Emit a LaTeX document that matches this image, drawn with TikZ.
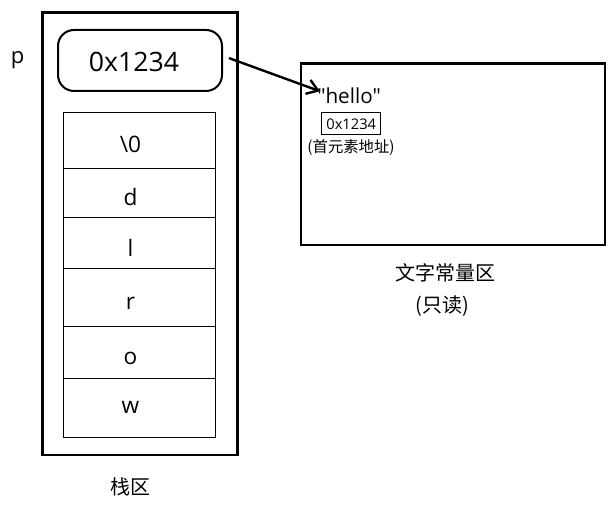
\documentclass[tikz,border=0pt]{standalone}
\usepackage{fontspec}
\setmainfont{Open Sans}[Ligatures=TeXOff]
\newfontfamily\cjk{Noto Sans CJK SC}
\usetikzlibrary{arrows.meta}

\begin{document}
\begin{tikzpicture}[x=0.75pt,y=0.75pt,yscale=-1,xscale=1,
  zone/.style={line width=2.2pt},
  cell/.style={line width=0.75pt},
  letter/.style={anchor=base,inner sep=0.75pt,font=\fontsize{17}{20}\selectfont},
  note/.style={inner sep=0.75pt,font=\cjk\fontsize{15}{18}\selectfont}]
\useasboundingbox (0,0) rectangle (613,509);
% stack area
\draw [zone] (42.5,12.5) rectangle (237.5,455) ;
\draw (17.5,63.5) node [anchor=base][inner sep=0.75pt] (plabel) {\fontsize{16.5}{18}\selectfont p};
\node (ptr) [draw, line width=1.5pt, rounded corners=12pt, minimum width=123pt, minimum height=45.75pt] at (140,60.5) {};
\draw (134,71.7) node [anchor=base][inner sep=0.75pt] (ptrval) {\fontsize{20}{24}\selectfont 0x1234};
\draw [cell] (63,113) rectangle (215,169) ;
\draw [cell] (63,169) rectangle (215,218) ;
\draw [cell] (63,218) rectangle (215,269) ;
\draw [cell] (63,269) rectangle (215,326.5) ;
\draw [cell] (63,326.5) rectangle (215,378.5) ;
\draw [cell] (63,378.5) rectangle (215,437) ;
\draw (130.5,152.3) node [letter] (c0) {\textbackslash 0};
\draw (130.5,206) node [letter] (c1) {d};
\draw (130.5,256.7) node [letter] (c2) {l};
\draw (130.5,309) node [letter] (c3) {r};
\draw (130.5,364.3) node [letter] (c4) {o};
\draw (130.5,413.3) node [letter] (c5) {w};
\draw (130,487) node [note] (stacklabel) {栈区};
% constant area
\draw [zone] (301,63.5) rectangle (605,245) ;
\draw (316,103.3) node [anchor=base west][inner sep=0.75pt] (hello) {\fontsize{15.5}{18}\selectfont "hello"};
\node (addr) [draw, line width=0.6pt, minimum width=44.25pt, minimum height=16.5pt, inner sep=0.75pt, font=\fontsize{11}{13}\selectfont] at (351.2,123.9) {0x1234};
\draw (351,148) node [inner sep=0.75pt] (addrnote) {\cjk\fontsize{11.5}{14}\selectfont (首元素地址)};
\draw (445,273) node [note] (conlabel) {文字常量区};
\draw (442,306) node [note] (rolabel) {(只读)};
\draw [line width=1.8pt, -{Straight Barb[length=8pt,width=11pt]}] ([xshift=4.5pt,yshift=-1.8pt]ptr.east) -- ([xshift=3pt,yshift=-3.2pt]hello.west);

\end{tikzpicture}
\end{document}
